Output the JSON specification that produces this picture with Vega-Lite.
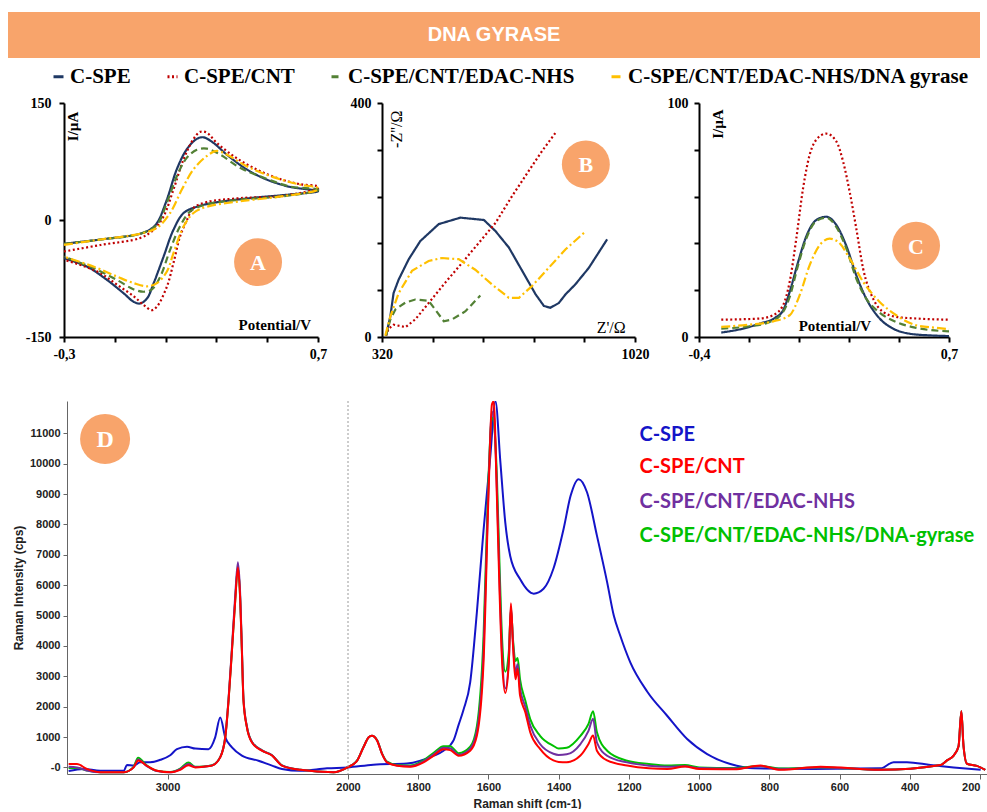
{
  "$schema": "https://vega.github.io/schema/vega-lite/v6.json",
  "padding": {"left": 8, "top": 12, "right": 0, "bottom": 0},
  "background": "white",
  "config": {"view": {"stroke": null}, "axis": {"grid": false}},
  "spacing": 8,
  "resolve": {"scale": {"color": "independent", "strokeDash": "independent"}, "legend": {"color": "independent", "strokeDash": "independent"}},
  "datasets": {
    "cv": [
      {"s":"C-SPE","i":0,"x":-0.3,"y":-30.5},{"s":"C-SPE","i":1,"x":-0.156,"y":-25},{"s":"C-SPE","i":2,"x":0.0,"y":-17.6},{"s":"C-SPE","i":3,"x":0.04,"y":-12},{"s":"C-SPE","i":4,"x":0.066,"y":-4},{"s":"C-SPE","i":5,"x":0.105,"y":26},{"s":"C-SPE","i":6,"x":0.144,"y":65},{"s":"C-SPE","i":7,"x":0.184,"y":91},{"s":"C-SPE","i":8,"x":0.223,"y":104},{"s":"C-SPE","i":9,"x":0.249,"y":106},{"s":"C-SPE","i":10,"x":0.288,"y":99},{"s":"C-SPE","i":11,"x":0.34,"y":84},{"s":"C-SPE","i":12,"x":0.419,"y":65},{"s":"C-SPE","i":13,"x":0.497,"y":52},{"s":"C-SPE","i":14,"x":0.589,"y":42.5},{"s":"C-SPE","i":15,"x":0.7,"y":37},{"s":"C-SPE","i":16,"x":0.589,"y":32.7},{"s":"C-SPE","i":17,"x":0.432,"y":28},{"s":"C-SPE","i":18,"x":0.288,"y":22},{"s":"C-SPE","i":19,"x":0.223,"y":17},{"s":"C-SPE","i":20,"x":0.171,"y":9},{"s":"C-SPE","i":21,"x":0.131,"y":-12.5},{"s":"C-SPE","i":22,"x":0.092,"y":-47},{"s":"C-SPE","i":23,"x":0.053,"y":-81},{"s":"C-SPE","i":24,"x":0.027,"y":-100.5},{"s":"C-SPE","i":25,"x":0.0,"y":-107},{"s":"C-SPE","i":26,"x":-0.025,"y":-105},{"s":"C-SPE","i":27,"x":-0.065,"y":-94},{"s":"C-SPE","i":28,"x":-0.13,"y":-77},{"s":"C-SPE","i":29,"x":-0.208,"y":-60},{"s":"C-SPE","i":30,"x":-0.3,"y":-49},
      {"s":"C-SPE/CNT","i":0,"x":-0.3,"y":-40.4},{"s":"C-SPE/CNT","i":1,"x":-0.156,"y":-32},{"s":"C-SPE/CNT","i":2,"x":0.0,"y":-23},{"s":"C-SPE/CNT","i":3,"x":0.053,"y":-12.5},{"s":"C-SPE/CNT","i":4,"x":0.092,"y":4.7},{"s":"C-SPE/CNT","i":5,"x":0.131,"y":39},{"s":"C-SPE/CNT","i":6,"x":0.171,"y":78},{"s":"C-SPE/CNT","i":7,"x":0.21,"y":104},{"s":"C-SPE/CNT","i":8,"x":0.236,"y":113},{"s":"C-SPE/CNT","i":9,"x":0.262,"y":112},{"s":"C-SPE/CNT","i":10,"x":0.301,"y":99},{"s":"C-SPE/CNT","i":11,"x":0.367,"y":82},{"s":"C-SPE/CNT","i":12,"x":0.445,"y":67},{"s":"C-SPE/CNT","i":13,"x":0.537,"y":54},{"s":"C-SPE/CNT","i":14,"x":0.628,"y":46},{"s":"C-SPE/CNT","i":15,"x":0.7,"y":43},{"s":"C-SPE/CNT","i":16,"x":0.7,"y":41},{"s":"C-SPE/CNT","i":17,"x":0.563,"y":31},{"s":"C-SPE/CNT","i":18,"x":0.393,"y":28},{"s":"C-SPE/CNT","i":19,"x":0.262,"y":23},{"s":"C-SPE/CNT","i":20,"x":0.21,"y":15.5},{"s":"C-SPE/CNT","i":21,"x":0.184,"y":0},{"s":"C-SPE/CNT","i":22,"x":0.157,"y":-21},{"s":"C-SPE/CNT","i":23,"x":0.131,"y":-55},{"s":"C-SPE/CNT","i":24,"x":0.105,"y":-85.5},{"s":"C-SPE/CNT","i":25,"x":0.066,"y":-111},{"s":"C-SPE/CNT","i":26,"x":0.046,"y":-115.6},{"s":"C-SPE/CNT","i":27,"x":0.014,"y":-109},{"s":"C-SPE/CNT","i":28,"x":-0.025,"y":-98},{"s":"C-SPE/CNT","i":29,"x":-0.091,"y":-83},{"s":"C-SPE/CNT","i":30,"x":-0.169,"y":-66},{"s":"C-SPE/CNT","i":31,"x":-0.3,"y":-51},
      {"s":"C-SPE/CNT/EDAC-NHS","i":0,"x":-0.3,"y":-30.5},{"s":"C-SPE/CNT/EDAC-NHS","i":1,"x":-0.156,"y":-25},{"s":"C-SPE/CNT/EDAC-NHS","i":2,"x":0.0,"y":-17.6},{"s":"C-SPE/CNT/EDAC-NHS","i":3,"x":0.066,"y":-6},{"s":"C-SPE/CNT/EDAC-NHS","i":4,"x":0.105,"y":22},{"s":"C-SPE/CNT/EDAC-NHS","i":5,"x":0.144,"y":56},{"s":"C-SPE/CNT/EDAC-NHS","i":6,"x":0.184,"y":80},{"s":"C-SPE/CNT/EDAC-NHS","i":7,"x":0.223,"y":90},{"s":"C-SPE/CNT/EDAC-NHS","i":8,"x":0.262,"y":91.5},{"s":"C-SPE/CNT/EDAC-NHS","i":9,"x":0.314,"y":84},{"s":"C-SPE/CNT/EDAC-NHS","i":10,"x":0.393,"y":67},{"s":"C-SPE/CNT/EDAC-NHS","i":11,"x":0.497,"y":53},{"s":"C-SPE/CNT/EDAC-NHS","i":12,"x":0.589,"y":43},{"s":"C-SPE/CNT/EDAC-NHS","i":13,"x":0.7,"y":39},{"s":"C-SPE/CNT/EDAC-NHS","i":14,"x":0.7,"y":38},{"s":"C-SPE/CNT/EDAC-NHS","i":15,"x":0.563,"y":30.5},{"s":"C-SPE/CNT/EDAC-NHS","i":16,"x":0.393,"y":26},{"s":"C-SPE/CNT/EDAC-NHS","i":17,"x":0.262,"y":20},{"s":"C-SPE/CNT/EDAC-NHS","i":18,"x":0.197,"y":11},{"s":"C-SPE/CNT/EDAC-NHS","i":19,"x":0.157,"y":-8},{"s":"C-SPE/CNT/EDAC-NHS","i":20,"x":0.118,"y":-38},{"s":"C-SPE/CNT/EDAC-NHS","i":21,"x":0.079,"y":-72.6},{"s":"C-SPE/CNT/EDAC-NHS","i":22,"x":0.046,"y":-89},{"s":"C-SPE/CNT/EDAC-NHS","i":23,"x":0.014,"y":-92},{"s":"C-SPE/CNT/EDAC-NHS","i":24,"x":-0.025,"y":-89},{"s":"C-SPE/CNT/EDAC-NHS","i":25,"x":-0.091,"y":-77},{"s":"C-SPE/CNT/EDAC-NHS","i":26,"x":-0.182,"y":-62},{"s":"C-SPE/CNT/EDAC-NHS","i":27,"x":-0.3,"y":-47},
      {"s":"C-SPE/CNT/EDAC-NHS/DNA gyrase","i":0,"x":-0.3,"y":-32},{"s":"C-SPE/CNT/EDAC-NHS/DNA gyrase","i":1,"x":-0.156,"y":-25},{"s":"C-SPE/CNT/EDAC-NHS/DNA gyrase","i":2,"x":0.0,"y":-17.6},{"s":"C-SPE/CNT/EDAC-NHS/DNA gyrase","i":3,"x":0.066,"y":-10},{"s":"C-SPE/CNT/EDAC-NHS/DNA gyrase","i":4,"x":0.118,"y":9},{"s":"C-SPE/CNT/EDAC-NHS/DNA gyrase","i":5,"x":0.164,"y":39},{"s":"C-SPE/CNT/EDAC-NHS/DNA gyrase","i":6,"x":0.21,"y":65},{"s":"C-SPE/CNT/EDAC-NHS/DNA gyrase","i":7,"x":0.262,"y":82},{"s":"C-SPE/CNT/EDAC-NHS/DNA gyrase","i":8,"x":0.301,"y":88.5},{"s":"C-SPE/CNT/EDAC-NHS/DNA gyrase","i":9,"x":0.34,"y":84},{"s":"C-SPE/CNT/EDAC-NHS/DNA gyrase","i":10,"x":0.419,"y":69},{"s":"C-SPE/CNT/EDAC-NHS/DNA gyrase","i":11,"x":0.524,"y":55},{"s":"C-SPE/CNT/EDAC-NHS/DNA gyrase","i":12,"x":0.628,"y":45.5},{"s":"C-SPE/CNT/EDAC-NHS/DNA gyrase","i":13,"x":0.7,"y":41},{"s":"C-SPE/CNT/EDAC-NHS/DNA gyrase","i":14,"x":0.7,"y":39},{"s":"C-SPE/CNT/EDAC-NHS/DNA gyrase","i":15,"x":0.563,"y":30.5},{"s":"C-SPE/CNT/EDAC-NHS/DNA gyrase","i":16,"x":0.393,"y":24},{"s":"C-SPE/CNT/EDAC-NHS/DNA gyrase","i":17,"x":0.262,"y":17},{"s":"C-SPE/CNT/EDAC-NHS/DNA gyrase","i":18,"x":0.21,"y":9},{"s":"C-SPE/CNT/EDAC-NHS/DNA gyrase","i":19,"x":0.171,"y":-8},{"s":"C-SPE/CNT/EDAC-NHS/DNA gyrase","i":20,"x":0.131,"y":-42.5},{"s":"C-SPE/CNT/EDAC-NHS/DNA gyrase","i":21,"x":0.105,"y":-66},{"s":"C-SPE/CNT/EDAC-NHS/DNA gyrase","i":22,"x":0.066,"y":-81},{"s":"C-SPE/CNT/EDAC-NHS/DNA gyrase","i":23,"x":0.027,"y":-85},{"s":"C-SPE/CNT/EDAC-NHS/DNA gyrase","i":24,"x":-0.025,"y":-81},{"s":"C-SPE/CNT/EDAC-NHS/DNA gyrase","i":25,"x":-0.091,"y":-72.6},{"s":"C-SPE/CNT/EDAC-NHS/DNA gyrase","i":26,"x":-0.182,"y":-60},{"s":"C-SPE/CNT/EDAC-NHS/DNA gyrase","i":27,"x":-0.3,"y":-47}
    ],
    "eis": [
      {"s":"C-SPE","i":0,"x":331,"y":2},{"s":"C-SPE","i":1,"x":343,"y":35},{"s":"C-SPE","i":2,"x":352,"y":75},{"s":"C-SPE","i":3,"x":366,"y":98},{"s":"C-SPE","i":4,"x":394,"y":133},{"s":"C-SPE","i":5,"x":426,"y":164},{"s":"C-SPE","i":6,"x":477,"y":193},{"s":"C-SPE","i":7,"x":537,"y":204},{"s":"C-SPE","i":8,"x":602,"y":200},{"s":"C-SPE","i":9,"x":634,"y":181},{"s":"C-SPE","i":10,"x":671,"y":153},{"s":"C-SPE","i":11,"x":708,"y":113},{"s":"C-SPE","i":12,"x":745,"y":73},{"s":"C-SPE","i":13,"x":768,"y":53},{"s":"C-SPE","i":14,"x":786,"y":50},{"s":"C-SPE","i":15,"x":809,"y":58},{"s":"C-SPE","i":16,"x":828,"y":73},{"s":"C-SPE","i":17,"x":855,"y":90},{"s":"C-SPE","i":18,"x":892,"y":118},{"s":"C-SPE","i":19,"x":943,"y":167},
      {"s":"C-SPE/CNT","i":0,"x":331,"y":2},{"s":"C-SPE/CNT","i":1,"x":338,"y":14},{"s":"C-SPE/CNT","i":2,"x":352,"y":21},{"s":"C-SPE/CNT","i":3,"x":385,"y":17},{"s":"C-SPE/CNT","i":4,"x":412,"y":30},{"s":"C-SPE/CNT","i":5,"x":449,"y":58},{"s":"C-SPE/CNT","i":6,"x":495,"y":93},{"s":"C-SPE/CNT","i":7,"x":542,"y":127},{"s":"C-SPE/CNT","i":8,"x":588,"y":161},{"s":"C-SPE/CNT","i":9,"x":634,"y":195},{"s":"C-SPE/CNT","i":10,"x":680,"y":241},{"s":"C-SPE/CNT","i":11,"x":726,"y":284},{"s":"C-SPE/CNT","i":12,"x":763,"y":318},{"s":"C-SPE/CNT","i":13,"x":800,"y":349},
      {"s":"C-SPE/CNT/EDAC-NHS","i":0,"x":331,"y":2},{"s":"C-SPE/CNT/EDAC-NHS","i":1,"x":343,"y":30},{"s":"C-SPE/CNT/EDAC-NHS","i":2,"x":357,"y":47},{"s":"C-SPE/CNT/EDAC-NHS","i":3,"x":385,"y":59},{"s":"C-SPE/CNT/EDAC-NHS","i":4,"x":412,"y":64},{"s":"C-SPE/CNT/EDAC-NHS","i":5,"x":449,"y":62},{"s":"C-SPE/CNT/EDAC-NHS","i":6,"x":467,"y":47},{"s":"C-SPE/CNT/EDAC-NHS","i":7,"x":491,"y":27},{"s":"C-SPE/CNT/EDAC-NHS","i":8,"x":514,"y":30},{"s":"C-SPE/CNT/EDAC-NHS","i":9,"x":551,"y":44},{"s":"C-SPE/CNT/EDAC-NHS","i":10,"x":592,"y":71},
      {"s":"C-SPE/CNT/EDAC-NHS/DNA gyrase","i":0,"x":329,"y":2},{"s":"C-SPE/CNT/EDAC-NHS/DNA gyrase","i":1,"x":343,"y":35},{"s":"C-SPE/CNT/EDAC-NHS/DNA gyrase","i":2,"x":366,"y":75},{"s":"C-SPE/CNT/EDAC-NHS/DNA gyrase","i":3,"x":403,"y":113},{"s":"C-SPE/CNT/EDAC-NHS/DNA gyrase","i":4,"x":449,"y":130},{"s":"C-SPE/CNT/EDAC-NHS/DNA gyrase","i":5,"x":486,"y":135},{"s":"C-SPE/CNT/EDAC-NHS/DNA gyrase","i":6,"x":532,"y":133},{"s":"C-SPE/CNT/EDAC-NHS/DNA gyrase","i":7,"x":578,"y":115},{"s":"C-SPE/CNT/EDAC-NHS/DNA gyrase","i":8,"x":624,"y":90},{"s":"C-SPE/CNT/EDAC-NHS/DNA gyrase","i":9,"x":671,"y":67},{"s":"C-SPE/CNT/EDAC-NHS/DNA gyrase","i":10,"x":699,"y":67},{"s":"C-SPE/CNT/EDAC-NHS/DNA gyrase","i":11,"x":735,"y":87},{"s":"C-SPE/CNT/EDAC-NHS/DNA gyrase","i":12,"x":781,"y":118},{"s":"C-SPE/CNT/EDAC-NHS/DNA gyrase","i":13,"x":828,"y":150},{"s":"C-SPE/CNT/EDAC-NHS/DNA gyrase","i":14,"x":879,"y":178}
    ],
    "dpv": [
      {"s":"C-SPE","i":0,"x":-0.302,"y":1.9},{"s":"C-SPE","i":1,"x":-0.206,"y":3.6},{"s":"C-SPE","i":2,"x":-0.133,"y":5.7},{"s":"C-SPE","i":3,"x":-0.067,"y":8.1},{"s":"C-SPE","i":4,"x":-0.03,"y":11.4},{"s":"C-SPE","i":5,"x":-0.001,"y":19.3},{"s":"C-SPE","i":6,"x":0.036,"y":32},{"s":"C-SPE","i":7,"x":0.072,"y":43},{"s":"C-SPE","i":8,"x":0.116,"y":50},{"s":"C-SPE","i":9,"x":0.16,"y":51.4},{"s":"C-SPE","i":10,"x":0.204,"y":47.9},{"s":"C-SPE","i":11,"x":0.248,"y":39},{"s":"C-SPE","i":12,"x":0.292,"y":26.4},{"s":"C-SPE","i":13,"x":0.336,"y":16.4},{"s":"C-SPE","i":14,"x":0.395,"y":7.9},{"s":"C-SPE","i":15,"x":0.454,"y":3.6},{"s":"C-SPE","i":16,"x":0.527,"y":1.4},{"s":"C-SPE","i":17,"x":0.615,"y":0.7},{"s":"C-SPE","i":18,"x":0.7,"y":0.4},
      {"s":"C-SPE/CNT","i":0,"x":-0.302,"y":7.4},{"s":"C-SPE/CNT","i":1,"x":-0.133,"y":7.9},{"s":"C-SPE/CNT","i":2,"x":-0.074,"y":9.3},{"s":"C-SPE/CNT","i":3,"x":-0.03,"y":13.6},{"s":"C-SPE/CNT","i":4,"x":-0.001,"y":23.6},{"s":"C-SPE/CNT","i":5,"x":0.028,"y":42},{"s":"C-SPE/CNT","i":6,"x":0.058,"y":63.6},{"s":"C-SPE/CNT","i":7,"x":0.087,"y":77.9},{"s":"C-SPE/CNT","i":8,"x":0.116,"y":84.3},{"s":"C-SPE/CNT","i":9,"x":0.16,"y":86.9},{"s":"C-SPE/CNT","i":10,"x":0.204,"y":83.6},{"s":"C-SPE/CNT","i":11,"x":0.234,"y":75},{"s":"C-SPE/CNT","i":12,"x":0.263,"y":62},{"s":"C-SPE/CNT","i":13,"x":0.292,"y":46.4},{"s":"C-SPE/CNT","i":14,"x":0.322,"y":29.3},{"s":"C-SPE/CNT","i":15,"x":0.366,"y":16.4},{"s":"C-SPE/CNT","i":16,"x":0.41,"y":10.7},{"s":"C-SPE/CNT","i":17,"x":0.468,"y":8.6},{"s":"C-SPE/CNT","i":18,"x":0.556,"y":7.9},{"s":"C-SPE/CNT","i":19,"x":0.7,"y":7.4},
      {"s":"C-SPE/CNT/EDAC-NHS","i":0,"x":-0.302,"y":3.6},{"s":"C-SPE/CNT/EDAC-NHS","i":1,"x":-0.177,"y":4.6},{"s":"C-SPE/CNT/EDAC-NHS","i":2,"x":-0.089,"y":6.4},{"s":"C-SPE/CNT/EDAC-NHS","i":3,"x":-0.03,"y":10.7},{"s":"C-SPE/CNT/EDAC-NHS","i":4,"x":-0.001,"y":17.1},{"s":"C-SPE/CNT/EDAC-NHS","i":5,"x":0.036,"y":30.7},{"s":"C-SPE/CNT/EDAC-NHS","i":6,"x":0.072,"y":42},{"s":"C-SPE/CNT/EDAC-NHS","i":7,"x":0.116,"y":49.6},{"s":"C-SPE/CNT/EDAC-NHS","i":8,"x":0.16,"y":51},{"s":"C-SPE/CNT/EDAC-NHS","i":9,"x":0.204,"y":47},{"s":"C-SPE/CNT/EDAC-NHS","i":10,"x":0.248,"y":37.9},{"s":"C-SPE/CNT/EDAC-NHS","i":11,"x":0.292,"y":25},{"s":"C-SPE/CNT/EDAC-NHS","i":12,"x":0.336,"y":16.4},{"s":"C-SPE/CNT/EDAC-NHS","i":13,"x":0.395,"y":10.4},{"s":"C-SPE/CNT/EDAC-NHS","i":14,"x":0.468,"y":6.4},{"s":"C-SPE/CNT/EDAC-NHS","i":15,"x":0.556,"y":3.9},{"s":"C-SPE/CNT/EDAC-NHS","i":16,"x":0.7,"y":2.4},
      {"s":"C-SPE/CNT/EDAC-NHS/DNA gyrase","i":0,"x":-0.302,"y":4.3},{"s":"C-SPE/CNT/EDAC-NHS/DNA gyrase","i":1,"x":-0.177,"y":5.3},{"s":"C-SPE/CNT/EDAC-NHS/DNA gyrase","i":2,"x":-0.074,"y":6.7},{"s":"C-SPE/CNT/EDAC-NHS/DNA gyrase","i":3,"x":-0.001,"y":9.3},{"s":"C-SPE/CNT/EDAC-NHS/DNA gyrase","i":4,"x":0.043,"y":17.9},{"s":"C-SPE/CNT/EDAC-NHS/DNA gyrase","i":5,"x":0.087,"y":30.7},{"s":"C-SPE/CNT/EDAC-NHS/DNA gyrase","i":6,"x":0.131,"y":39.3},{"s":"C-SPE/CNT/EDAC-NHS/DNA gyrase","i":7,"x":0.175,"y":42},{"s":"C-SPE/CNT/EDAC-NHS/DNA gyrase","i":8,"x":0.212,"y":40.7},{"s":"C-SPE/CNT/EDAC-NHS/DNA gyrase","i":9,"x":0.263,"y":33.6},{"s":"C-SPE/CNT/EDAC-NHS/DNA gyrase","i":10,"x":0.322,"y":23.6},{"s":"C-SPE/CNT/EDAC-NHS/DNA gyrase","i":11,"x":0.395,"y":15},{"s":"C-SPE/CNT/EDAC-NHS/DNA gyrase","i":12,"x":0.468,"y":9.3},{"s":"C-SPE/CNT/EDAC-NHS/DNA gyrase","i":13,"x":0.556,"y":5},{"s":"C-SPE/CNT/EDAC-NHS/DNA gyrase","i":14,"x":0.644,"y":3.9},{"s":"C-SPE/CNT/EDAC-NHS/DNA gyrase","i":15,"x":0.7,"y":3.3}
    ],
    "raman": [
      {"s":"C-SPE","x":3548,"y":-120},{"s":"C-SPE","x":3466,"y":-50},{"s":"C-SPE","x":3373,"y":-110},{"s":"C-SPE","x":3242,"y":-110},{"s":"C-SPE","x":3225,"y":80},{"s":"C-SPE","x":3188,"y":60},{"s":"C-SPE","x":3151,"y":170},{"s":"C-SPE","x":3096,"y":170},{"s":"C-SPE","x":3040,"y":250},{"s":"C-SPE","x":2985,"y":400},{"s":"C-SPE","x":2948,"y":600},{"s":"C-SPE","x":2892,"y":680},{"s":"C-SPE","x":2846,"y":620},{"s":"C-SPE","x":2773,"y":600},{"s":"C-SPE","x":2736,"y":990},{"s":"C-SPE","x":2708,"y":1640},{"s":"C-SPE","x":2680,"y":990},{"s":"C-SPE","x":2643,"y":660},{"s":"C-SPE","x":2588,"y":390},{"s":"C-SPE","x":2496,"y":220},{"s":"C-SPE","x":2421,"y":60},{"s":"C-SPE","x":2366,"y":-50},{"s":"C-SPE","x":2264,"y":-110},{"s":"C-SPE","x":2116,"y":-30},{"s":"C-SPE","x":2003,"y":0},{"s":"C-SPE","x":1928,"y":90},{"s":"C-SPE","x":1832,"y":130},{"s":"C-SPE","x":1756,"y":385},{"s":"C-SPE","x":1728,"y":550},{"s":"C-SPE","x":1699,"y":900},{"s":"C-SPE","x":1685,"y":1400},{"s":"C-SPE","x":1671,"y":1900},{"s":"C-SPE","x":1652,"y":2800},{"s":"C-SPE","x":1633,"y":5100},{"s":"C-SPE","x":1614,"y":7800},{"s":"C-SPE","x":1595,"y":10200},{"s":"C-SPE","x":1580,"y":12050},{"s":"C-SPE","x":1566,"y":10050},{"s":"C-SPE","x":1552,"y":8060},{"s":"C-SPE","x":1538,"y":6960},{"s":"C-SPE","x":1510,"y":6200},{"s":"C-SPE","x":1471,"y":5720},{"s":"C-SPE","x":1443,"y":5880},{"s":"C-SPE","x":1415,"y":6540},{"s":"C-SPE","x":1386,"y":7850},{"s":"C-SPE","x":1366,"y":8940},{"s":"C-SPE","x":1343,"y":9490},{"s":"C-SPE","x":1319,"y":9050},{"s":"C-SPE","x":1291,"y":7630},{"s":"C-SPE","x":1262,"y":6100},{"s":"C-SPE","x":1243,"y":5000},{"s":"C-SPE","x":1225,"y":4350},{"s":"C-SPE","x":1196,"y":3460},{"s":"C-SPE","x":1148,"y":2500},{"s":"C-SPE","x":1091,"y":1700},{"s":"C-SPE","x":1034,"y":935},{"s":"C-SPE","x":977,"y":440},{"s":"C-SPE","x":911,"y":110},{"s":"C-SPE","x":844,"y":-30},{"s":"C-SPE","x":674,"y":-50},{"s":"C-SPE","x":483,"y":-30},{"s":"C-SPE","x":446,"y":170},{"s":"C-SPE","x":408,"y":170},{"s":"C-SPE","x":341,"y":80},{"s":"C-SPE","x":275,"y":0},{"s":"C-SPE","x":198,"y":-80},
      {"s":"G","x":3548,"y":-20},{"s":"G","x":3502,"y":-20},{"s":"G","x":3447,"y":-100},{"s":"G","x":3373,"y":-160},{"s":"G","x":3242,"y":-160},{"s":"G","x":3188,"y":20},{"s":"G","x":3163,"y":320},{"s":"G","x":3114,"y":60},{"s":"G","x":3059,"y":-110},{"s":"G","x":2985,"y":-150},{"s":"G","x":2930,"y":-40},{"s":"G","x":2884,"y":160},{"s":"G","x":2846,"y":20},{"s":"G","x":2800,"y":30},{"s":"G","x":2754,"y":70},{"s":"G","x":2708,"y":340},{"s":"G","x":2680,"y":1000},{"s":"G","x":2662,"y":2200},{"s":"G","x":2643,"y":3860},{"s":"G","x":2625,"y":5500},{"s":"G","x":2610,"y":6600},{"s":"G","x":2597,"y":5500},{"s":"G","x":2588,"y":3860},{"s":"G","x":2579,"y":2210},{"s":"G","x":2560,"y":1330},{"s":"G","x":2532,"y":840},{"s":"G","x":2477,"y":560},{"s":"G","x":2421,"y":400},{"s":"G","x":2366,"y":70},{"s":"G","x":2264,"y":-80},{"s":"G","x":2080,"y":-160},{"s":"G","x":2003,"y":0},{"s":"G","x":1974,"y":230},{"s":"G","x":1956,"y":670},{"s":"G","x":1941,"y":990},{"s":"G","x":1932,"y":1040},{"s":"G","x":1917,"y":890},{"s":"G","x":1903,"y":460},{"s":"G","x":1889,"y":190},{"s":"G","x":1860,"y":80},{"s":"G","x":1823,"y":60},{"s":"G","x":1785,"y":230},{"s":"G","x":1756,"y":480},{"s":"G","x":1728,"y":700},{"s":"G","x":1709,"y":700},{"s":"G","x":1685,"y":470},{"s":"G","x":1652,"y":680},{"s":"G","x":1633,"y":1350},{"s":"G","x":1614,"y":4300},{"s":"G","x":1600,"y":9500},{"s":"G","x":1590,"y":11500},{"s":"G","x":1585,"y":11400},{"s":"G","x":1576,"y":9600},{"s":"G","x":1568,"y":6500},{"s":"G","x":1561,"y":4200},{"s":"G","x":1552,"y":3150},{"s":"G","x":1542,"y":3800},{"s":"G","x":1536,"y":5200},{"s":"G","x":1530,"y":4200},{"s":"G","x":1523,"y":3500},{"s":"G","x":1517,"y":3600},{"s":"G","x":1510,"y":2900},{"s":"G","x":1495,"y":2200},{"s":"G","x":1481,"y":1590},{"s":"G","x":1453,"y":1040},{"s":"G","x":1415,"y":710},{"s":"G","x":1400,"y":625},{"s":"G","x":1377,"y":650},{"s":"G","x":1338,"y":1040},{"s":"G","x":1315,"y":1430},{"s":"G","x":1302,"y":1850},{"s":"G","x":1291,"y":1160},{"s":"G","x":1262,"y":550},{"s":"G","x":1205,"y":220},{"s":"G","x":1143,"y":110},{"s":"G","x":1090,"y":60},{"s":"G","x":1040,"y":80},{"s":"G","x":1000,"y":0},{"s":"G","x":900,"y":-20},{"s":"G","x":825,"y":50},{"s":"G","x":768,"y":-40},{"s":"G","x":654,"y":0},{"s":"G","x":483,"y":-80},{"s":"G","x":312,"y":80},{"s":"G","x":294,"y":230},{"s":"G","x":275,"y":390},{"s":"G","x":261,"y":700},{"s":"G","x":253,"y":1850},{"s":"G","x":247,"y":720},{"s":"G","x":237,"y":120},{"s":"G","x":209,"y":50},{"s":"G","x":185,"y":-80},
      {"s":"P","x":3548,"y":20},{"s":"P","x":3502,"y":0},{"s":"P","x":3447,"y":-100},{"s":"P","x":3373,"y":-160},{"s":"P","x":3242,"y":-160},{"s":"P","x":3188,"y":0},{"s":"P","x":3163,"y":260},{"s":"P","x":3114,"y":40},{"s":"P","x":3059,"y":-120},{"s":"P","x":2985,"y":-160},{"s":"P","x":2930,"y":-60},{"s":"P","x":2884,"y":110},{"s":"P","x":2846,"y":10},{"s":"P","x":2800,"y":25},{"s":"P","x":2754,"y":65},{"s":"P","x":2708,"y":340},{"s":"P","x":2680,"y":1010},{"s":"P","x":2662,"y":2250},{"s":"P","x":2643,"y":3950},{"s":"P","x":2625,"y":5650},{"s":"P","x":2610,"y":6750},{"s":"P","x":2597,"y":5650},{"s":"P","x":2588,"y":3950},{"s":"P","x":2579,"y":2250},{"s":"P","x":2560,"y":1340},{"s":"P","x":2532,"y":840},{"s":"P","x":2477,"y":560},{"s":"P","x":2421,"y":400},{"s":"P","x":2366,"y":65},{"s":"P","x":2264,"y":-80},{"s":"P","x":2080,"y":-160},{"s":"P","x":2003,"y":0},{"s":"P","x":1974,"y":225},{"s":"P","x":1956,"y":665},{"s":"P","x":1941,"y":990},{"s":"P","x":1932,"y":1040},{"s":"P","x":1917,"y":885},{"s":"P","x":1903,"y":450},{"s":"P","x":1889,"y":175},{"s":"P","x":1860,"y":65},{"s":"P","x":1823,"y":40},{"s":"P","x":1785,"y":200},{"s":"P","x":1756,"y":430},{"s":"P","x":1728,"y":650},{"s":"P","x":1709,"y":630},{"s":"P","x":1685,"y":420},{"s":"P","x":1652,"y":620},{"s":"P","x":1633,"y":1200},{"s":"P","x":1614,"y":3800},{"s":"P","x":1600,"y":9200},{"s":"P","x":1590,"y":11700},{"s":"P","x":1585,"y":11600},{"s":"P","x":1576,"y":9200},{"s":"P","x":1568,"y":6000},{"s":"P","x":1561,"y":3700},{"s":"P","x":1552,"y":2600},{"s":"P","x":1542,"y":3500},{"s":"P","x":1536,"y":5300},{"s":"P","x":1530,"y":4100},{"s":"P","x":1523,"y":3100},{"s":"P","x":1517,"y":3400},{"s":"P","x":1510,"y":2600},{"s":"P","x":1495,"y":2000},{"s":"P","x":1481,"y":1380},{"s":"P","x":1453,"y":770},{"s":"P","x":1415,"y":450},{"s":"P","x":1400,"y":410},{"s":"P","x":1377,"y":430},{"s":"P","x":1338,"y":770},{"s":"P","x":1315,"y":1200},{"s":"P","x":1302,"y":1600},{"s":"P","x":1291,"y":820},{"s":"P","x":1262,"y":385},{"s":"P","x":1205,"y":165},{"s":"P","x":1143,"y":55},{"s":"P","x":1090,"y":20},{"s":"P","x":1040,"y":40},{"s":"P","x":1000,"y":-20},{"s":"P","x":900,"y":-40},{"s":"P","x":825,"y":40},{"s":"P","x":768,"y":-60},{"s":"P","x":654,"y":0},{"s":"P","x":483,"y":-80},{"s":"P","x":312,"y":80},{"s":"P","x":294,"y":230},{"s":"P","x":275,"y":390},{"s":"P","x":261,"y":700},{"s":"P","x":253,"y":1850},{"s":"P","x":247,"y":720},{"s":"P","x":237,"y":120},{"s":"P","x":209,"y":50},{"s":"P","x":185,"y":-80},
      {"s":"R","x":3548,"y":110},{"s":"R","x":3502,"y":110},{"s":"R","x":3447,"y":-50},{"s":"R","x":3373,"y":-160},{"s":"R","x":3242,"y":-160},{"s":"R","x":3188,"y":0},{"s":"R","x":3163,"y":230},{"s":"R","x":3114,"y":50},{"s":"R","x":3059,"y":-110},{"s":"R","x":2985,"y":-160},{"s":"R","x":2930,"y":-80},{"s":"R","x":2884,"y":70},{"s":"R","x":2846,"y":0},{"s":"R","x":2800,"y":20},{"s":"R","x":2754,"y":60},{"s":"R","x":2708,"y":330},{"s":"R","x":2680,"y":990},{"s":"R","x":2662,"y":2190},{"s":"R","x":2643,"y":3840},{"s":"R","x":2625,"y":5480},{"s":"R","x":2610,"y":6580},{"s":"R","x":2597,"y":5480},{"s":"R","x":2588,"y":3840},{"s":"R","x":2579,"y":2190},{"s":"R","x":2560,"y":1310},{"s":"R","x":2532,"y":820},{"s":"R","x":2477,"y":550},{"s":"R","x":2421,"y":390},{"s":"R","x":2366,"y":60},{"s":"R","x":2264,"y":-80},{"s":"R","x":2080,"y":-160},{"s":"R","x":2003,"y":0},{"s":"R","x":1974,"y":220},{"s":"R","x":1956,"y":660},{"s":"R","x":1941,"y":990},{"s":"R","x":1932,"y":1040},{"s":"R","x":1917,"y":880},{"s":"R","x":1903,"y":440},{"s":"R","x":1889,"y":165},{"s":"R","x":1860,"y":55},{"s":"R","x":1823,"y":20},{"s":"R","x":1785,"y":165},{"s":"R","x":1756,"y":385},{"s":"R","x":1728,"y":600},{"s":"R","x":1709,"y":570},{"s":"R","x":1685,"y":385},{"s":"R","x":1652,"y":550},{"s":"R","x":1633,"y":1040},{"s":"R","x":1614,"y":3450},{"s":"R","x":1600,"y":8930},{"s":"R","x":1590,"y":11950},{"s":"R","x":1585,"y":12050},{"s":"R","x":1576,"y":8940},{"s":"R","x":1568,"y":5650},{"s":"R","x":1561,"y":3450},{"s":"R","x":1552,"y":2450},{"s":"R","x":1542,"y":3450},{"s":"R","x":1536,"y":5400},{"s":"R","x":1530,"y":4000},{"s":"R","x":1523,"y":2900},{"s":"R","x":1517,"y":3250},{"s":"R","x":1510,"y":2370},{"s":"R","x":1495,"y":1820},{"s":"R","x":1481,"y":1160},{"s":"R","x":1453,"y":610},{"s":"R","x":1415,"y":230},{"s":"R","x":1400,"y":180},{"s":"R","x":1377,"y":170},{"s":"R","x":1338,"y":390},{"s":"R","x":1315,"y":770},{"s":"R","x":1302,"y":1050},{"s":"R","x":1291,"y":550},{"s":"R","x":1262,"y":230},{"s":"R","x":1205,"y":60},{"s":"R","x":1143,"y":-30},{"s":"R","x":1090,"y":-50},{"s":"R","x":1040,"y":30},{"s":"R","x":1000,"y":-50},{"s":"R","x":900,"y":-60},{"s":"R","x":825,"y":60},{"s":"R","x":768,"y":-80},{"s":"R","x":654,"y":20},{"s":"R","x":483,"y":-80},{"s":"R","x":312,"y":80},{"s":"R","x":294,"y":230},{"s":"R","x":275,"y":390},{"s":"R","x":261,"y":700},{"s":"R","x":253,"y":1850},{"s":"R","x":247,"y":720},{"s":"R","x":237,"y":120},{"s":"R","x":209,"y":50},{"s":"R","x":185,"y":-80}
    ],
    "ramanLabels": [
      {"s":"C-SPE","t":"C-SPE","x":1170,"y":10940},
      {"s":"R","t":"C-SPE/CNT","x":1170,"y":9900},
      {"s":"P","t":"C-SPE/CNT/EDAC-NHS","x":1170,"y":8750},
      {"s":"G","t":"C-SPE/CNT/EDAC-NHS/DNA-gyrase","x":1170,"y":7620}
    ]
  },
  "vconcat": [
    {
      "width": 972,
      "height": 46,
      "view": {"fill": "#F8A46B", "stroke": null},
      "data": {"values": [{"t": "DNA GYRASE"}]},
      "mark": {"type": "text", "font": "Liberation Sans", "fontWeight": "bold", "fontSize": 20, "color": "white", "align": "center", "baseline": "middle"},
      "encoding": {"text": {"field": "t", "type": "nominal"}}
    },
    {
      "hconcat": [
        {
          "width": 310,
          "height": 234,
          "layer": [
            {
              "data": {"name": "cv"},
              "mark": {"type": "line", "strokeWidth": 2.2, "interpolate": "catmull-rom"},
              "encoding": {
                "x": {"field": "x", "type": "quantitative", "title": null, "scale": {"domain": [-0.3, 0.7], "range": [56, 310], "nice": false, "zero": false},
                  "axis": {"values": [-0.3,-0.2,-0.1,0,0.1,0.2,0.3,0.4,0.5,0.6,0.7], "labelExpr": "abs(datum.value+0.3)<1e-6 ? '-0,3' : abs(datum.value-0.2)<1e-6 ? '0,2' : abs(datum.value-0.7)<1e-6 ? '0,7' : ''", "domainColor": "black", "domainWidth": 2, "tickColor": "black", "tickWidth": 2, "tickSize": 5, "labelFont": "Liberation Serif", "labelFontWeight": "bold", "labelFontSize": 14, "labelColor": "black", "labelPadding": 5, "labelOverlap": false, "labelFlush": false, "minExtent": 55, "maxExtent": 55}},
                "y": {"field": "y", "type": "quantitative", "title": null, "scale": {"domain": [-150, 150], "nice": false, "zero": false},
                  "axis": {"offset": -56, "values": [-150, 0, 150], "labelExpr": "'' + datum.value", "domainColor": "black", "domainWidth": 2, "tickColor": "black", "tickWidth": 2, "tickSize": 5, "labelFont": "Liberation Serif", "labelFontWeight": "bold", "labelFontSize": 14, "labelColor": "black", "labelPadding": 8, "labelOverlap": false}},
                "color": {"field": "s", "type": "nominal", "scale": {"domain": ["C-SPE", "C-SPE/CNT", "C-SPE/CNT/EDAC-NHS", "C-SPE/CNT/EDAC-NHS/DNA gyrase"], "range": ["#1F3864", "#C00000", "#538135", "#FFC000"]},
                  "legend": {"orient": "none", "legendX": 40, "legendY": -37, "direction": "horizontal", "title": null, "symbolType": "stroke", "symbolSize": 100, "symbolStrokeWidth": 3, "labelFont": "Liberation Serif", "labelFontWeight": "bold", "labelFontSize": 21, "labelColor": "black", "columnPadding": 30, "labelOffset": 1, "padding": 0, "labelLimit": 500}},
                "strokeDash": {"field": "s", "type": "nominal", "scale": {"domain": ["C-SPE", "C-SPE/CNT", "C-SPE/CNT/EDAC-NHS", "C-SPE/CNT/EDAC-NHS/DNA gyrase"], "range": [[1, 0], [2, 2.5], [7, 4], [9, 3, 2, 3]]},
                  "legend": {"orient": "none", "legendX": 40, "legendY": -37, "direction": "horizontal", "title": null, "symbolType": "stroke", "symbolSize": 100, "symbolStrokeWidth": 3, "labelFont": "Liberation Serif", "labelFontWeight": "bold", "labelFontSize": 21, "labelColor": "black", "columnPadding": 30, "labelOffset": 1, "padding": 0, "labelLimit": 500}},
                "order": {"field": "i", "type": "quantitative"}
              }
            },
            {
              "data": {"values": [{"x": -0.266, "y": 120, "t": "I/µA"}]},
              "mark": {"type": "text", "angle": 270, "font": "Liberation Serif", "fontWeight": "bold", "fontSize": 15, "color": "black", "align": "center", "baseline": "middle"},
              "encoding": {"x": {"field": "x", "type": "quantitative", "title": null, "scale": {"domain": [-0.3, 0.7], "range": [56, 310], "nice": false, "zero": false}}, "y": {"field": "y", "type": "quantitative", "title": null, "scale": {"domain": [-150, 150], "nice": false, "zero": false}}, "text": {"field": "t"}}
            },
            {
              "data": {"values": [{"x": 0.53, "y": -135, "t": "Potential/V"}]},
              "mark": {"type": "text", "font": "Liberation Serif", "fontWeight": "bold", "fontSize": 15, "color": "black", "align": "center", "baseline": "middle"},
              "encoding": {"x": {"field": "x", "type": "quantitative", "title": null, "scale": {"domain": [-0.3, 0.7], "range": [56, 310], "nice": false, "zero": false}}, "y": {"field": "y", "type": "quantitative", "title": null, "scale": {"domain": [-150, 150], "nice": false, "zero": false}}, "text": {"field": "t"}}
            },
            {
              "data": {"values": [{"x": 0.464, "y": -54, "t": "A"}]},
              "mark": {"type": "point", "shape": "circle", "filled": true, "size": 2300, "color": "#F8A46B", "opacity": 1},
              "encoding": {"x": {"field": "x", "type": "quantitative", "title": null, "scale": {"domain": [-0.3, 0.7], "range": [56, 310], "nice": false, "zero": false}}, "y": {"field": "y", "type": "quantitative", "title": null, "scale": {"domain": [-150, 150], "nice": false, "zero": false}}}
            },
            {
              "data": {"values": [{"x": 0.464, "y": -54, "t": "A"}]},
              "mark": {"type": "text", "font": "Liberation Serif", "fontWeight": "bold", "fontSize": 22, "color": "white", "align": "center", "baseline": "middle", "dy": 1},
              "encoding": {"x": {"field": "x", "type": "quantitative", "title": null, "scale": {"domain": [-0.3, 0.7], "range": [56, 310], "nice": false, "zero": false}}, "y": {"field": "y", "type": "quantitative", "title": null, "scale": {"domain": [-150, 150], "nice": false, "zero": false}}, "text": {"field": "t"}}
            }
          ]
        },
        {
          "width": 253,
          "height": 234,
          "layer": [
            {
              "data": {"name": "eis"},
              "mark": {"type": "line", "strokeWidth": 2.2},
              "encoding": {
                "x": {"field": "x", "type": "quantitative", "title": null, "scale": {"domain": [320, 1020], "nice": false, "zero": false},
                  "axis": {"values": [320,390,460,530,600,670,740,810,880,950,1020], "labelExpr": "datum.value==320||datum.value==670||datum.value==1020 ? ''+datum.value : ''", "domainColor": "black", "domainWidth": 2, "tickColor": "black", "tickWidth": 2, "tickSize": 5, "labelFont": "Liberation Serif", "labelFontWeight": "bold", "labelFontSize": 14, "labelColor": "black", "labelPadding": 5, "labelOverlap": false, "labelFlush": false, "minExtent": 55, "maxExtent": 55}},
                "y": {"field": "y", "type": "quantitative", "title": null, "scale": {"domain": [0, 400], "nice": false, "zero": false},
                  "axis": {"values": [0,40,80,120,160,200,240,280,320,360,400], "labelExpr": "datum.value==0||datum.value==200||datum.value==400 ? ''+datum.value : ''", "domainColor": "black", "domainWidth": 2, "tickColor": "black", "tickWidth": 2, "tickSize": 5, "labelFont": "Liberation Serif", "labelFontWeight": "bold", "labelFontSize": 14, "labelColor": "black", "labelPadding": 6, "labelOverlap": false}},
                "color": {"field": "s", "type": "nominal", "scale": {"domain": ["C-SPE", "C-SPE/CNT", "C-SPE/CNT/EDAC-NHS", "C-SPE/CNT/EDAC-NHS/DNA gyrase"], "range": ["#1F3864", "#C00000", "#538135", "#FFC000"]}},
                "strokeDash": {"field": "s", "type": "nominal", "scale": {"domain": ["C-SPE", "C-SPE/CNT", "C-SPE/CNT/EDAC-NHS", "C-SPE/CNT/EDAC-NHS/DNA gyrase"], "range": [[1, 0], [2, 2.5], [7, 4], [9, 3, 2, 3]]}},
                "order": {"field": "i", "type": "quantitative"}
              }
            },
            {
              "data": {"values": [{"x": 361, "y": 355, "t": "-Z''/Ω"}]},
              "mark": {"type": "text", "angle": 270, "font": "Liberation Serif", "fontSize": 16, "color": "black", "align": "center", "baseline": "middle"},
              "encoding": {"x": {"field": "x", "type": "quantitative", "title": null, "scale": {"domain": [320, 1020], "nice": false, "zero": false}}, "y": {"field": "y", "type": "quantitative", "title": null, "scale": {"domain": [0, 400], "nice": false, "zero": false}}, "text": {"field": "t"}}
            },
            {
              "data": {"values": [{"x": 954, "y": 15, "t": "Z'/Ω"}]},
              "mark": {"type": "text", "font": "Liberation Serif", "fontSize": 16, "color": "black", "align": "center", "baseline": "middle"},
              "encoding": {"x": {"field": "x", "type": "quantitative", "title": null, "scale": {"domain": [320, 1020], "nice": false, "zero": false}}, "y": {"field": "y", "type": "quantitative", "title": null, "scale": {"domain": [0, 400], "nice": false, "zero": false}}, "text": {"field": "t"}}
            },
            {
              "data": {"values": [{"x": 884, "y": 295, "t": "B"}]},
              "mark": {"type": "point", "shape": "circle", "filled": true, "size": 2300, "color": "#F8A46B", "opacity": 1},
              "encoding": {"x": {"field": "x", "type": "quantitative", "title": null, "scale": {"domain": [320, 1020], "nice": false, "zero": false}}, "y": {"field": "y", "type": "quantitative", "title": null, "scale": {"domain": [0, 400], "nice": false, "zero": false}}}
            },
            {
              "data": {"values": [{"x": 884, "y": 295, "t": "B"}]},
              "mark": {"type": "text", "font": "Liberation Serif", "fontWeight": "bold", "fontSize": 22, "color": "white", "align": "center", "baseline": "middle", "dy": 1},
              "encoding": {"x": {"field": "x", "type": "quantitative", "title": null, "scale": {"domain": [320, 1020], "nice": false, "zero": false}}, "y": {"field": "y", "type": "quantitative", "title": null, "scale": {"domain": [0, 400], "nice": false, "zero": false}}, "text": {"field": "t"}}
            }
          ]
        },
        {
          "width": 250,
          "height": 234,
          "layer": [
            {
              "data": {"name": "dpv"},
              "mark": {"type": "line", "strokeWidth": 2.2, "interpolate": "monotone"},
              "encoding": {
                "x": {"field": "x", "type": "quantitative", "title": null, "scale": {"domain": [-0.4, 0.7], "nice": false, "zero": false},
                  "axis": {"values": [-0.4,-0.29,-0.18,-0.07,0.04,0.15,0.26,0.37,0.48,0.59,0.7], "labelExpr": "abs(datum.value+0.4)<1e-6 ? '-0,4' : abs(datum.value-0.15)<1e-6 ? '0,15' : abs(datum.value-0.7)<1e-6 ? '0,7' : ''", "domainColor": "black", "domainWidth": 2, "tickColor": "black", "tickWidth": 2, "tickSize": 5, "labelFont": "Liberation Serif", "labelFontWeight": "bold", "labelFontSize": 14, "labelColor": "black", "labelPadding": 5, "labelOverlap": false, "labelFlush": false, "minExtent": 55, "maxExtent": 55}},
                "y": {"field": "y", "type": "quantitative", "title": null, "scale": {"domain": [0, 100], "nice": false, "zero": false},
                  "axis": {"values": [0,10,20,30,40,50,60,70,80,90,100], "labelExpr": "datum.value==0||datum.value==50||datum.value==100 ? ''+datum.value : ''", "domainColor": "black", "domainWidth": 2, "tickColor": "black", "tickWidth": 2, "tickSize": 5, "labelFont": "Liberation Serif", "labelFontWeight": "bold", "labelFontSize": 14, "labelColor": "black", "labelPadding": 6, "labelOverlap": false}},
                "color": {"field": "s", "type": "nominal", "scale": {"domain": ["C-SPE", "C-SPE/CNT", "C-SPE/CNT/EDAC-NHS", "C-SPE/CNT/EDAC-NHS/DNA gyrase"], "range": ["#1F3864", "#C00000", "#538135", "#FFC000"]}},
                "strokeDash": {"field": "s", "type": "nominal", "scale": {"domain": ["C-SPE", "C-SPE/CNT", "C-SPE/CNT/EDAC-NHS", "C-SPE/CNT/EDAC-NHS/DNA gyrase"], "range": [[1, 0], [2, 2.5], [7, 4], [9, 3, 2, 3]]}},
                "order": {"field": "i", "type": "quantitative"}
              }
            },
            {
              "data": {"values": [{"x": -0.316, "y": 91, "t": "I/µA"}]},
              "mark": {"type": "text", "angle": 270, "font": "Liberation Serif", "fontWeight": "bold", "fontSize": 15, "color": "black", "align": "center", "baseline": "middle"},
              "encoding": {"x": {"field": "x", "type": "quantitative", "title": null, "scale": {"domain": [-0.4, 0.7], "nice": false, "zero": false}}, "y": {"field": "y", "type": "quantitative", "title": null, "scale": {"domain": [0, 100], "nice": false, "zero": false}}, "text": {"field": "t"}}
            },
            {
              "data": {"values": [{"x": 0.198, "y": 4.7, "t": "Potential/V"}]},
              "mark": {"type": "text", "font": "Liberation Serif", "fontWeight": "bold", "fontSize": 15, "color": "black", "align": "center", "baseline": "middle"},
              "encoding": {"x": {"field": "x", "type": "quantitative", "title": null, "scale": {"domain": [-0.4, 0.7], "nice": false, "zero": false}}, "y": {"field": "y", "type": "quantitative", "title": null, "scale": {"domain": [0, 100], "nice": false, "zero": false}}, "text": {"field": "t"}}
            },
            {
              "data": {"values": [{"x": 0.555, "y": 39, "t": "C"}]},
              "mark": {"type": "point", "shape": "circle", "filled": true, "size": 2300, "color": "#F8A46B", "opacity": 1},
              "encoding": {"x": {"field": "x", "type": "quantitative", "title": null, "scale": {"domain": [-0.4, 0.7], "nice": false, "zero": false}}, "y": {"field": "y", "type": "quantitative", "title": null, "scale": {"domain": [0, 100], "nice": false, "zero": false}}}
            },
            {
              "data": {"values": [{"x": 0.555, "y": 39, "t": "C"}]},
              "mark": {"type": "text", "font": "Liberation Serif", "fontWeight": "bold", "fontSize": 22, "color": "white", "align": "center", "baseline": "middle", "dy": 1},
              "encoding": {"x": {"field": "x", "type": "quantitative", "title": null, "scale": {"domain": [-0.4, 0.7], "nice": false, "zero": false}}, "y": {"field": "y", "type": "quantitative", "title": null, "scale": {"domain": [0, 100], "nice": false, "zero": false}}, "text": {"field": "t"}}
            }
          ]
        }
      ],
      "spacing": 64,
      "bounds": "flush"
    },
    {
      "width": 979,
      "height": 373,
      "layer": [
        {
          "data": {"name": "raman"},
          "mark": {"type": "line", "strokeWidth": 2, "clip": true, "interpolate": "monotone"},
          "encoding": {
            "x": {"field": "x", "type": "quantitative", "scale": {"domain": [3557, 2000, 180], "range": [59, 340, 979], "nice": false, "zero": false},
              "axis": {"title": "Raman shift (cm-1)", "values": [3000, 2000, 1800, 1600, 1400, 1200, 1000, 800, 600, 400, 200], "labelExpr": "'' + datum.value", "labelAlign": {"expr": "datum.value == 200 ? 'right' : 'center'"}, "domainColor": "#666", "tickColor": "#666", "tickSize": 5, "labelFont": "Liberation Sans", "labelFontWeight": "bold", "labelFontSize": 11, "labelColor": "#222", "labelPadding": 2, "labelOverlap": false, "labelFlush": false, "titleFont": "Liberation Sans", "titleFontWeight": "bold", "titleFontSize": 12, "titleColor": "#222", "titlePadding": 6, "titleX": 519}},
            "y": {"field": "y", "type": "quantitative", "scale": {"domain": [-217, 12062], "nice": false, "zero": false},
              "axis": {"title": "Raman Intensity (cps)", "offset": -59, "values": [0,1000,2000,3000,4000,5000,6000,7000,8000,9000,10000,11000], "labelExpr": "datum.value == 0 ? '-0' : '' + datum.value", "domainColor": "#666", "tickColor": "#666", "tickSize": 4, "labelFont": "Liberation Sans", "labelFontWeight": "bold", "labelFontSize": 11, "labelColor": "#222", "labelPadding": 3, "labelOverlap": false, "titleFont": "Liberation Sans", "titleFontWeight": "bold", "titleFontSize": 12, "titleColor": "#222", "titlePadding": 7, "minExtent": 35, "maxExtent": 35}},
            "color": {"field": "s", "type": "nominal", "scale": {"domain": ["C-SPE", "R", "P", "G"], "range": ["#1414C8", "#FF0000", "#7030A0", "#00C000"]}, "legend": null}
          }
        },
        {
          "data": {"values": [{"x": 2000}]},
          "mark": {"type": "rule", "color": "#9a9a9a", "strokeDash": [2, 2], "strokeWidth": 1},
          "encoding": {"x": {"field": "x", "type": "quantitative", "scale": {"domain": [3557, 2000, 180], "range": [59, 340, 979], "nice": false, "zero": false},
              "axis": {"title": "Raman shift (cm-1)", "values": [3000, 2000, 1800, 1600, 1400, 1200, 1000, 800, 600, 400, 200], "labelExpr": "'' + datum.value", "labelAlign": {"expr": "datum.value == 200 ? 'right' : 'center'"}, "domainColor": "#666", "tickColor": "#666", "tickSize": 5, "labelFont": "Liberation Sans", "labelFontWeight": "bold", "labelFontSize": 11, "labelColor": "#222", "labelPadding": 2, "labelOverlap": false, "labelFlush": false, "titleFont": "Liberation Sans", "titleFontWeight": "bold", "titleFontSize": 12, "titleColor": "#222", "titlePadding": 6, "titleX": 519}}}
        },
        {
          "data": {"name": "ramanLabels"},
          "mark": {"type": "text", "align": "left", "baseline": "middle", "font": "Lato", "fontWeight": "bold", "fontSize": 20},
          "encoding": {
            "x": {"field": "x", "type": "quantitative", "scale": {"domain": [3557, 2000, 180], "range": [59, 340, 979], "nice": false, "zero": false},
              "axis": {"title": "Raman shift (cm-1)", "values": [3000, 2000, 1800, 1600, 1400, 1200, 1000, 800, 600, 400, 200], "labelExpr": "'' + datum.value", "labelAlign": {"expr": "datum.value == 200 ? 'right' : 'center'"}, "domainColor": "#666", "tickColor": "#666", "tickSize": 5, "labelFont": "Liberation Sans", "labelFontWeight": "bold", "labelFontSize": 11, "labelColor": "#222", "labelPadding": 2, "labelOverlap": false, "labelFlush": false, "titleFont": "Liberation Sans", "titleFontWeight": "bold", "titleFontSize": 12, "titleColor": "#222", "titlePadding": 6, "titleX": 519}},
            "y": {"field": "y", "type": "quantitative", "scale": {"domain": [-217, 12062], "nice": false, "zero": false},
              "axis": {"title": "Raman Intensity (cps)", "offset": -59, "values": [0,1000,2000,3000,4000,5000,6000,7000,8000,9000,10000,11000], "labelExpr": "datum.value == 0 ? '-0' : '' + datum.value", "domainColor": "#666", "tickColor": "#666", "tickSize": 4, "labelFont": "Liberation Sans", "labelFontWeight": "bold", "labelFontSize": 11, "labelColor": "#222", "labelPadding": 3, "labelOverlap": false, "titleFont": "Liberation Sans", "titleFontWeight": "bold", "titleFontSize": 12, "titleColor": "#222", "titlePadding": 7, "minExtent": 35, "maxExtent": 35}},
            "text": {"field": "t"},
            "color": {"field": "s", "type": "nominal", "scale": {"domain": ["C-SPE", "R", "P", "G"], "range": ["#1414C8", "#FF0000", "#7030A0", "#00C000"]}, "legend": null}
          }
        },
        {
          "data": {"values": [{"x": 3346, "y": 10812, "t": "D"}]},
          "mark": {"type": "point", "shape": "circle", "filled": true, "size": 2500, "color": "#F8A46B", "opacity": 1},
          "encoding": {
            "x": {"field": "x", "type": "quantitative", "scale": {"domain": [3557, 2000, 180], "range": [59, 340, 979], "nice": false, "zero": false},
              "axis": {"title": "Raman shift (cm-1)", "values": [3000, 2000, 1800, 1600, 1400, 1200, 1000, 800, 600, 400, 200], "labelExpr": "'' + datum.value", "labelAlign": {"expr": "datum.value == 200 ? 'right' : 'center'"}, "domainColor": "#666", "tickColor": "#666", "tickSize": 5, "labelFont": "Liberation Sans", "labelFontWeight": "bold", "labelFontSize": 11, "labelColor": "#222", "labelPadding": 2, "labelOverlap": false, "labelFlush": false, "titleFont": "Liberation Sans", "titleFontWeight": "bold", "titleFontSize": 12, "titleColor": "#222", "titlePadding": 6, "titleX": 519}},
            "y": {"field": "y", "type": "quantitative", "scale": {"domain": [-217, 12062], "nice": false, "zero": false},
              "axis": {"title": "Raman Intensity (cps)", "offset": -59, "values": [0,1000,2000,3000,4000,5000,6000,7000,8000,9000,10000,11000], "labelExpr": "datum.value == 0 ? '-0' : '' + datum.value", "domainColor": "#666", "tickColor": "#666", "tickSize": 4, "labelFont": "Liberation Sans", "labelFontWeight": "bold", "labelFontSize": 11, "labelColor": "#222", "labelPadding": 3, "labelOverlap": false, "titleFont": "Liberation Sans", "titleFontWeight": "bold", "titleFontSize": 12, "titleColor": "#222", "titlePadding": 7, "minExtent": 35, "maxExtent": 35}}
          }
        },
        {
          "data": {"values": [{"x": 3346, "y": 10812, "t": "D"}]},
          "mark": {"type": "text", "font": "Liberation Serif", "fontWeight": "bold", "fontSize": 24, "color": "white", "align": "center", "baseline": "middle", "dy": 1},
          "encoding": {
            "x": {"field": "x", "type": "quantitative", "scale": {"domain": [3557, 2000, 180], "range": [59, 340, 979], "nice": false, "zero": false},
              "axis": {"title": "Raman shift (cm-1)", "values": [3000, 2000, 1800, 1600, 1400, 1200, 1000, 800, 600, 400, 200], "labelExpr": "'' + datum.value", "labelAlign": {"expr": "datum.value == 200 ? 'right' : 'center'"}, "domainColor": "#666", "tickColor": "#666", "tickSize": 5, "labelFont": "Liberation Sans", "labelFontWeight": "bold", "labelFontSize": 11, "labelColor": "#222", "labelPadding": 2, "labelOverlap": false, "labelFlush": false, "titleFont": "Liberation Sans", "titleFontWeight": "bold", "titleFontSize": 12, "titleColor": "#222", "titlePadding": 6, "titleX": 519}},
            "y": {"field": "y", "type": "quantitative", "scale": {"domain": [-217, 12062], "nice": false, "zero": false},
              "axis": {"title": "Raman Intensity (cps)", "offset": -59, "values": [0,1000,2000,3000,4000,5000,6000,7000,8000,9000,10000,11000], "labelExpr": "datum.value == 0 ? '-0' : '' + datum.value", "domainColor": "#666", "tickColor": "#666", "tickSize": 4, "labelFont": "Liberation Sans", "labelFontWeight": "bold", "labelFontSize": 11, "labelColor": "#222", "labelPadding": 3, "labelOverlap": false, "titleFont": "Liberation Sans", "titleFontWeight": "bold", "titleFontSize": 12, "titleColor": "#222", "titlePadding": 7, "minExtent": 35, "maxExtent": 35}},
            "text": {"field": "t"}
          }
        }
      ]
    }
  ]
}
